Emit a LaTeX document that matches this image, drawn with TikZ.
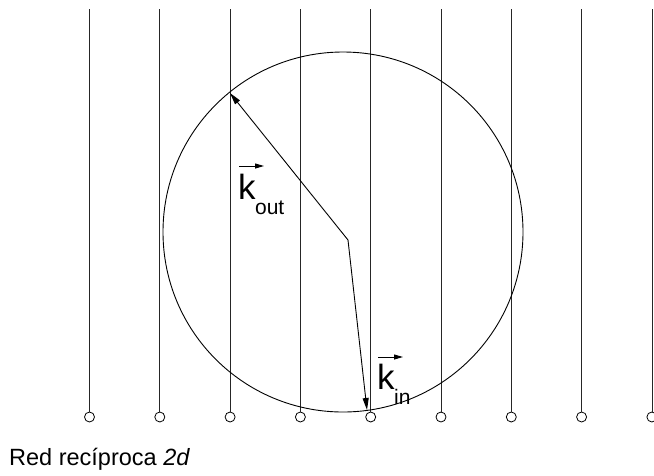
\documentclass[tikz,border=0pt]{standalone}
\usepackage{fontspec}
\setmainfont{Liberation Sans}
\usetikzlibrary{arrows.meta}
\begin{document}
\begin{tikzpicture}[x=1pt,y=-1pt,
  latt/.style={line width=0.8pt,draw=black!85},
  pt/.style={circle,draw,line width=0.8pt,minimum size=10pt,inner sep=0pt},
  vec/.style={line width=0.9pt,-{Triangle[length=12pt,width=6pt]}},
  ovec/.style={line width=1pt,-{Triangle[length=9pt,width=5pt]}},
  lbl/.style={inner sep=0pt,anchor=base west,font=\fontsize{35}{35}\selectfont},
  sub/.style={inner sep=0pt,anchor=base west,font=\fontsize{21}{21}\selectfont}]
\useasboundingbox (0,0) rectangle (654,475);
\foreach \i in {0,...,8}{
  \pgfmathsetmacro\xx{89.5+70.3*\i}
  \coordinate (t\i) at (\xx,9);
  \node[pt] (p\i) at (\xx,417) {};
  \draw[latt] (t\i) -- (p\i.north);
}
\draw[line width=0.9pt] (343,232) circle[radius=180];
\coordinate (c) at (348,240);
\coordinate (ko) at (230,93);
\coordinate (ki) at (367,410);
\draw[vec] (c) -- (ko);
\draw[vec] (c) -- (ki);
% labels
\node[lbl] (kout) at (238,199) {k};
\node[sub] (kouts) at ([xshift=-1pt,yshift=-15pt]kout.base east) {out};
\draw[ovec] ([xshift=1pt,yshift=33pt]kout.base west) -- ([xshift=26pt,yshift=33pt]kout.base west);
\node[lbl] (kin) at (377,389) {k};
\node[sub] (kins) at ([xshift=-1pt,yshift=-15pt]kin.base east) {in};
\draw[ovec] ([xshift=1pt,yshift=32pt]kin.base west) -- ([xshift=26pt,yshift=32pt]kin.base west);
\node[inner sep=0pt,anchor=base west,font=\fontsize{23.5}{23.5}\selectfont] (cap) at (9,465) {Red recíproca \textit{2d}};
\end{tikzpicture}
\end{document}
